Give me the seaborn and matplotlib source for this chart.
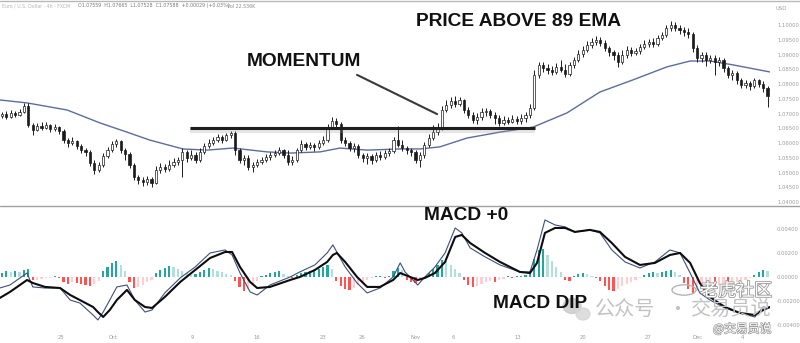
import numpy as np
import matplotlib
matplotlib.use("Agg")
import matplotlib.pyplot as plt
import matplotlib.patheffects as pe
from matplotlib.lines import Line2D
from matplotlib.patches import Ellipse, Circle
import seaborn as sns

# ------------------------------------------------------------------ data
opens = [1.0692, 1.0698, 1.0688, 1.0702, 1.0695, 1.0705, 1.0726, 1.0661, 1.0644, 1.0658,
         1.0651, 1.0661, 1.0648, 1.0654, 1.0641, 1.0610, 1.0600, 1.0607, 1.0590, 1.0576,
         1.0570, 1.0532, 1.0508, 1.0525, 1.0556, 1.0576, 1.0597, 1.0607, 1.0576, 1.0563,
         1.0525, 1.0485, 1.0475, 1.0468, 1.0478, 1.0464, 1.0508, 1.0519, 1.0512, 1.0525,
         1.0536, 1.0542, 1.0570, 1.0549, 1.0559, 1.0542, 1.0570, 1.0590, 1.0600, 1.0610,
         1.0620, 1.0610, 1.0627, 1.0634, 1.0576, 1.0542, 1.0549, 1.0519, 1.0525, 1.0536,
         1.0542, 1.0553, 1.0559, 1.0566, 1.0576, 1.0559, 1.0536, 1.0542, 1.0576, 1.0597,
         1.0587, 1.0593, 1.0587, 1.0600, 1.0610, 1.0654, 1.0675, 1.0665, 1.0610, 1.0600,
         1.0583, 1.0590, 1.0559, 1.0549, 1.0556, 1.0542, 1.0559, 1.0553, 1.0566, 1.0573,
         1.0610, 1.0593, 1.0583, 1.0576, 1.0570, 1.0542, 1.0559, 1.0593, 1.0617, 1.0637,
         1.0651, 1.0712, 1.0729, 1.0743, 1.0732, 1.0746, 1.0712, 1.0695, 1.0678, 1.0688,
         1.0705, 1.0709, 1.0695, 1.0685, 1.0668, 1.0678, 1.0671, 1.0682, 1.0675, 1.0685,
         1.0695, 1.0719, 1.0831, 1.0865, 1.0854, 1.0848, 1.0841, 1.0858, 1.0848, 1.0834,
         1.0865, 1.0882, 1.0902, 1.0915, 1.0932, 1.0943, 1.0949, 1.0939, 1.0922, 1.0909,
         1.0899, 1.0875, 1.0899, 1.0915, 1.0905, 1.0912, 1.0926, 1.0936, 1.0943, 1.0936,
         1.0956, 1.0966, 1.0990, 1.1000, 1.0990, 1.0983, 1.0977, 1.0970, 1.0922, 1.0888,
         1.0899, 1.0882, 1.0888, 1.0875, 1.0882, 1.0854, 1.0831, 1.0838, 1.0814, 1.0797,
         1.0804, 1.0793, 1.0814, 1.0800, 1.0787]
highs = [1.0705, 1.0709, 1.0712, 1.0709, 1.0715, 1.0736, 1.0736, 1.0668, 1.0668, 1.0671,
         1.0671, 1.0665, 1.0665, 1.0658, 1.0648, 1.0617, 1.0620, 1.0610, 1.0597, 1.0583,
         1.0576, 1.0542, 1.0536, 1.0566, 1.0587, 1.0607, 1.0614, 1.0610, 1.0583, 1.0570,
         1.0532, 1.0492, 1.0485, 1.0488, 1.0485, 1.0522, 1.0532, 1.0529, 1.0542, 1.0549,
         1.0553, 1.0583, 1.0576, 1.0576, 1.0570, 1.0583, 1.0600, 1.0614, 1.0620, 1.0631,
         1.0627, 1.0634, 1.0641, 1.0641, 1.0583, 1.0559, 1.0559, 1.0536, 1.0546, 1.0553,
         1.0563, 1.0570, 1.0576, 1.0587, 1.0580, 1.0576, 1.0556, 1.0583, 1.0610, 1.0603,
         1.0603, 1.0600, 1.0610, 1.0624, 1.0665, 1.0688, 1.0685, 1.0671, 1.0620, 1.0607,
         1.0600, 1.0597, 1.0566, 1.0566, 1.0563, 1.0570, 1.0573, 1.0576, 1.0583, 1.0620,
         1.0658, 1.0610, 1.0590, 1.0583, 1.0576, 1.0570, 1.0603, 1.0631, 1.0661, 1.0668,
         1.0726, 1.0746, 1.0756, 1.0760, 1.0756, 1.0749, 1.0722, 1.0705, 1.0702, 1.0719,
         1.0719, 1.0715, 1.0705, 1.0695, 1.0692, 1.0688, 1.0695, 1.0692, 1.0698, 1.0705,
         1.0732, 1.0848, 1.0875, 1.0875, 1.0868, 1.0861, 1.0871, 1.0882, 1.0868, 1.0875,
         1.0892, 1.0915, 1.0929, 1.0946, 1.0956, 1.0963, 1.0960, 1.0949, 1.0929, 1.0915,
         1.0909, 1.0915, 1.0929, 1.0926, 1.0922, 1.0936, 1.0949, 1.0953, 1.0956, 1.0966,
         1.0977, 1.1000, 1.1014, 1.1010, 1.1000, 1.0993, 1.0990, 1.0977, 1.0932, 1.0909,
         1.0909, 1.0899, 1.0899, 1.0892, 1.0888, 1.0861, 1.0848, 1.0844, 1.0821, 1.0814,
         1.0810, 1.0821, 1.0817, 1.0810, 1.0793]
lows = [1.0685, 1.0682, 1.0685, 1.0688, 1.0692, 1.0702, 1.0654, 1.0627, 1.0641, 1.0644,
        1.0648, 1.0637, 1.0641, 1.0631, 1.0600, 1.0587, 1.0593, 1.0580, 1.0566, 1.0556,
        1.0522, 1.0495, 1.0502, 1.0519, 1.0549, 1.0570, 1.0587, 1.0566, 1.0542, 1.0515,
        1.0475, 1.0461, 1.0454, 1.0458, 1.0451, 1.0461, 1.0498, 1.0502, 1.0505, 1.0519,
        1.0525, 1.0485, 1.0536, 1.0542, 1.0532, 1.0536, 1.0563, 1.0583, 1.0593, 1.0603,
        1.0600, 1.0607, 1.0617, 1.0559, 1.0532, 1.0525, 1.0508, 1.0502, 1.0519, 1.0529,
        1.0536, 1.0542, 1.0553, 1.0559, 1.0549, 1.0525, 1.0525, 1.0536, 1.0570, 1.0576,
        1.0580, 1.0573, 1.0580, 1.0593, 1.0603, 1.0648, 1.0654, 1.0600, 1.0590, 1.0573,
        1.0570, 1.0549, 1.0536, 1.0529, 1.0529, 1.0536, 1.0542, 1.0546, 1.0556, 1.0566,
        1.0587, 1.0573, 1.0563, 1.0556, 1.0532, 1.0519, 1.0549, 1.0587, 1.0610, 1.0627,
        1.0644, 1.0705, 1.0719, 1.0722, 1.0726, 1.0702, 1.0685, 1.0668, 1.0665, 1.0678,
        1.0692, 1.0685, 1.0665, 1.0658, 1.0661, 1.0665, 1.0668, 1.0665, 1.0665, 1.0671,
        1.0685, 1.0712, 1.0821, 1.0841, 1.0834, 1.0831, 1.0834, 1.0841, 1.0824, 1.0827,
        1.0854, 1.0875, 1.0892, 1.0909, 1.0922, 1.0932, 1.0929, 1.0912, 1.0895, 1.0882,
        1.0858, 1.0868, 1.0888, 1.0895, 1.0899, 1.0902, 1.0919, 1.0926, 1.0926, 1.0929,
        1.0949, 1.0960, 1.0980, 1.0980, 1.0970, 1.0963, 1.0956, 1.0909, 1.0875, 1.0875,
        1.0861, 1.0871, 1.0831, 1.0861, 1.0841, 1.0821, 1.0814, 1.0800, 1.0787, 1.0787,
        1.0780, 1.0787, 1.0790, 1.0773, 1.0722]
closes = [1.0698, 1.0688, 1.0702, 1.0695, 1.0705, 1.0726, 1.0661, 1.0644, 1.0658, 1.0651,
          1.0661, 1.0648, 1.0654, 1.0641, 1.0610, 1.0600, 1.0607, 1.0590, 1.0576, 1.0570,
          1.0532, 1.0508, 1.0525, 1.0556, 1.0576, 1.0597, 1.0607, 1.0576, 1.0563, 1.0525,
          1.0485, 1.0475, 1.0468, 1.0478, 1.0464, 1.0508, 1.0519, 1.0512, 1.0525, 1.0536,
          1.0542, 1.0570, 1.0549, 1.0559, 1.0542, 1.0570, 1.0590, 1.0600, 1.0610, 1.0620,
          1.0610, 1.0627, 1.0634, 1.0576, 1.0542, 1.0549, 1.0519, 1.0525, 1.0536, 1.0542,
          1.0553, 1.0559, 1.0566, 1.0576, 1.0559, 1.0536, 1.0542, 1.0576, 1.0597, 1.0587,
          1.0593, 1.0587, 1.0600, 1.0610, 1.0654, 1.0675, 1.0665, 1.0610, 1.0600, 1.0583,
          1.0590, 1.0559, 1.0549, 1.0556, 1.0542, 1.0559, 1.0553, 1.0566, 1.0573, 1.0610,
          1.0593, 1.0583, 1.0576, 1.0570, 1.0542, 1.0559, 1.0593, 1.0617, 1.0637, 1.0651,
          1.0712, 1.0729, 1.0743, 1.0732, 1.0746, 1.0712, 1.0695, 1.0678, 1.0688, 1.0705,
          1.0709, 1.0695, 1.0685, 1.0668, 1.0678, 1.0671, 1.0682, 1.0675, 1.0685, 1.0695,
          1.0719, 1.0831, 1.0865, 1.0854, 1.0848, 1.0841, 1.0858, 1.0848, 1.0834, 1.0865,
          1.0882, 1.0902, 1.0915, 1.0932, 1.0943, 1.0949, 1.0939, 1.0922, 1.0909, 1.0899,
          1.0875, 1.0899, 1.0915, 1.0905, 1.0912, 1.0926, 1.0936, 1.0943, 1.0936, 1.0956,
          1.0966, 1.0990, 1.1000, 1.0990, 1.0983, 1.0977, 1.0970, 1.0922, 1.0888, 1.0899,
          1.0882, 1.0888, 1.0875, 1.0882, 1.0854, 1.0831, 1.0838, 1.0814, 1.0797, 1.0804,
          1.0793, 1.0814, 1.0800, 1.0787, 1.0760]

# 89 EMA (bar position, value)
ema_pos = [-0.5, 5.7, 14.8, 22.3, 28.4, 33.6, 41.1, 46.6, 52.5, 60.2, 65.5, 72.3, 76.8,
           83.0, 90.5, 95.0, 99.5, 105.7, 113.2, 120.7, 128.4, 135.9, 143.4, 151.1,
           156.4, 160.9, 166.1, 174.5]
ema_val = [1.0746, 1.0736, 1.0712, 1.0668, 1.0637, 1.0610, 1.0580, 1.0576, 1.0583, 1.0570,
           1.0566, 1.0570, 1.0583, 1.0576, 1.0580, 1.0580, 1.0587, 1.0617, 1.0637, 1.0654,
           1.0702, 1.0773, 1.0814, 1.0858, 1.0878, 1.0878, 1.0865, 1.0841]

# MACD (bar position, macd line, signal line)
macd_pos = [-0.5, 1.8, 5.7, 7.0, 9.8, 13.2, 15.5, 17.7, 20.7, 21.8, 23.0, 24.5, 26.1, 28.4,
            30.2, 32.5, 34.1, 37.0, 40.5, 43.9, 47.3, 50.7, 52.3, 54.1, 56.4, 58.0, 60.9,
            65.5, 67.7, 71.1, 73.9, 75.2, 76.1, 78.0, 80.7, 83.0, 85.9, 88.9, 90.5, 91.6,
            94.5, 96.1, 98.4, 100.7, 103.0, 104.5, 106.4, 109.8, 113.2, 117.7, 120.0, 121.6,
            123.4, 125.7, 128.0, 130.2, 133.6, 135.9, 138.6, 141.6, 145.0, 148.4, 151.8,
            154.1, 156.4, 158.6, 160.9, 164.3, 167.7, 171.1, 173.0, 174.5]
macd_line = [-0.00092, -0.00067, 0.00033, -0.00083, -0.00092, -0.00092, -0.00192, -0.00217,
             -0.00317, -0.00358, -0.00292, -0.00192, -0.00083, -0.00067, -0.00192, -0.00292,
             -0.00275, -0.00133, -0.00008, 0.00083, 0.00200, 0.00225, 0.00183, 0.00033,
             -0.00125, -0.00150, -0.00067, 0.00000, 0.00042, 0.00100, 0.00200, 0.00267,
             0.00208, 0.00083, -0.00050, -0.00133, -0.00092, 0.00000, 0.00117, 0.00042,
             -0.00067, 0.00000, 0.00083, 0.00200, 0.00408, 0.00367, 0.00242, 0.00167,
             0.00100, 0.00042, 0.00042, 0.00225, 0.00475, 0.00433, 0.00417, 0.00375,
             0.00392, 0.00367, 0.00225, 0.00125, 0.00075, 0.00125, 0.00225, 0.00200,
             0.00033, -0.00133, -0.00192, -0.00258, -0.00300, -0.00333, -0.00250, -0.00258]
signal_line = [-0.00175, -0.00125, -0.00025, -0.00050, -0.00083, -0.00092, -0.00150, -0.00192,
               -0.00250, -0.00292, -0.00333, -0.00275, -0.00192, -0.00108, -0.00192, -0.00250,
               -0.00258, -0.00167, -0.00042, 0.00058, 0.00158, 0.00208, 0.00208, 0.00083,
               -0.00042, -0.00092, -0.00083, -0.00025, 0.00000, 0.00058, 0.00125, 0.00183,
               0.00200, 0.00125, 0.00000, -0.00083, -0.00083, -0.00025, 0.00033, 0.00017,
               -0.00025, -0.00008, 0.00033, 0.00125, 0.00333, 0.00350, 0.00283, 0.00200,
               0.00125, 0.00042, 0.00033, 0.00117, 0.00367, 0.00408, 0.00408, 0.00375,
               0.00392, 0.00375, 0.00283, 0.00167, 0.00100, 0.00117, 0.00183, 0.00200,
               0.00117, -0.00050, -0.00167, -0.00250, -0.00300, -0.00317, -0.00275, -0.00250]
hist = [0.00033, 0.00050, 0.00042, 0.00050, 0.00042, 0.00058, 0.00067, -0.00025, -0.00025, -0.00017,
        -0.00008, -0.00008, 0.00004, -0.00008, -0.00042, -0.00058, -0.00042, -0.00050, -0.00058, -0.00067,
        -0.00075, -0.00058, -0.00033, 0.00050, 0.00083, 0.00117, 0.00133, 0.00100, 0.00050, -0.00042,
        -0.00092, -0.00083, -0.00067, -0.00042, -0.00025, 0.00033, 0.00058, 0.00075, 0.00092, 0.00083,
        0.00067, 0.00050, 0.00033, 0.00017, 0.00025, 0.00042, 0.00058, 0.00075, 0.00067, 0.00050,
        0.00042, 0.00025, 0.00017, -0.00033, -0.00083, -0.00117, -0.00100, -0.00067, -0.00033, 0.00008,
        0.00017, 0.00033, 0.00042, 0.00050, 0.00025, 0.00008, -0.00008, 0.00017, 0.00033, 0.00042,
        0.00050, 0.00058, 0.00067, 0.00083, 0.00100, 0.00067, -0.00033, -0.00075, -0.00100, -0.00108,
        -0.00092, -0.00067, -0.00042, -0.00025, -0.00008, 0.00004, 0.00008, -0.00008, 0.00008, 0.00050,
        0.00075, 0.00058, -0.00025, -0.00042, -0.00050, -0.00033, -0.00017, 0.00033, 0.00067, 0.00100,
        0.00142, 0.00133, 0.00100, 0.00067, 0.00033, -0.00025, -0.00067, -0.00083, -0.00075, -0.00058,
        -0.00042, -0.00033, -0.00042, -0.00025, -0.00017, 0.00004, -0.00008, 0.00008, 0.00008, 0.00017,
        0.00050, 0.00150, 0.00225, 0.00233, 0.00183, 0.00133, 0.00083, 0.00042, -0.00025, -0.00033,
        0.00008, 0.00025, 0.00033, 0.00025, 0.00008, -0.00008, -0.00033, -0.00075, -0.00108, -0.00117,
        -0.00100, -0.00075, -0.00058, -0.00042, -0.00025, -0.00008, 0.00017, 0.00033, 0.00042, 0.00033,
        0.00042, 0.00050, 0.00058, 0.00042, 0.00017, -0.00050, -0.00100, -0.00133, -0.00117, -0.00092,
        -0.00075, -0.00067, -0.00075, -0.00067, -0.00058, -0.00067, -0.00050, -0.00042, -0.00033, -0.00025,
        -0.00008, 0.00017, 0.00042, 0.00058, 0.00050]

price_ticks = [1.10, 1.095, 1.09, 1.085, 1.08, 1.075, 1.07, 1.065, 1.06, 1.055, 1.05, 1.045, 1.04]
macd_ticks = [0.004, 0.002, 0.0, -0.002, -0.004]
date_ticks = [13.4, 25.2, 43.2, 58.0, 73.0, 81.8, 93.9, 102.5, 117.3, 132.0, 146.8, 158.2, 168.2]
date_labels = ["25", "Oct", "9", "16", "23", "26", "Nov", "6", "13", "20", "27", "Dec", "4"]

# annotations
level_price = 1.0651
level_span = [42.7, 121.1]
pointer_x = [80.7, 98.9]
pointer_y = [1.0831, 1.0698]
header_name = "Euro / U.S. Dollar · 4h · FXCM"
header_vals = "O1.07559  H1.07665  L1.07528  C1.07588  +0.00029 (+0.03%)"
header_vol = "Vol 22.536K"

# ------------------------------------------------------------------ style
sns.set_theme(style="white")
plt.rcParams["font.family"] = ["DejaVu Sans"]

W, H = 800, 343
fig = plt.figure(figsize=(W / 100, H / 100), dpi=100)
fig.patch.set_facecolor("white")


def fx(px):
    return px / W


def fy(py):
    return 1 - py / H


ax_p = fig.add_axes([0, fy(205), fx(770), (205 - 2) / H])
ax_m = fig.add_axes([0, fy(328), fx(770), (328 - 206) / H], sharex=ax_p)

o = np.array(opens); h = np.array(highs); l = np.array(lows); c = np.array(closes)
idx = np.arange(len(c))

# candles
ax_p.vlines(idx, l, h, color="#1c1c1c", lw=0.7, zorder=3)
up = c >= o
body_bot = np.minimum(o, c)
body_h = np.maximum(np.abs(c - o), 0.00008)
ax_p.bar(idx, body_h, bottom=body_bot, width=0.5,
         color=np.where(up, "white", "#1c1c1c"), edgecolor="#1c1c1c",
         linewidth=0.5, zorder=4)

# EMA
sns.lineplot(x=ema_pos, y=ema_val, ax=ax_p, color="#5b6d9c", lw=1.0, sort=False, zorder=2)

# level line with soft shadow
ax_p.plot(level_span, [level_price - 0.0006, level_price - 0.0006], color="#999999",
          lw=4.5, alpha=0.25, solid_capstyle="butt", zorder=5)
ax_p.plot(level_span, [level_price, level_price], color="#1e1e1e", lw=2.2,
          solid_capstyle="butt", zorder=6)
ax_p.plot(pointer_x, pointer_y, color="#3a3a3a", lw=1.5, zorder=6)

ax_p.set_xlim(-0.45, 174.55)
ax_p.set_ylim(1.0390, 1.1078)

# MACD histogram
hv = np.array(hist)
prev = np.r_[hv[0], hv[:-1]]
cols = np.where(hv >= 0,
                np.where(hv >= prev, "#26a69a", "#b2dfdb"),
                np.where(hv < prev, "#ff5252", "#ffcdd2"))
ax_m.bar(idx, hv, width=0.5, color=cols, linewidth=0, zorder=2)
sns.lineplot(x=macd_pos, y=macd_line, ax=ax_m, color="#3d4f7c", lw=0.8, sort=False, zorder=3)
sns.lineplot(x=macd_pos, y=signal_line, ax=ax_m, color="#0d0d0d", lw=1.5, sort=False, zorder=4)
ax_m.set_ylim(-0.00425, 0.00591)

for ax in (ax_p, ax_m):
    for s in ax.spines.values():
        s.set_visible(False)
    ax.yaxis.tick_right()
    ax.tick_params(axis="y", length=0, pad=5, labelsize=3.8, labelcolor="#9c9c9c")
    ax.set_facecolor("none")

ax_p.set_yticks(price_ticks)
ax_p.set_yticklabels([f"{v:.5f}" for v in price_ticks])
ax_m.set_yticks(macd_ticks)
ax_m.set_yticklabels([f"{v:.5f}".replace("-0.00000", "0.00000") for v in macd_ticks])
ax_p.tick_params(axis="x", bottom=False, labelbottom=False)
ax_m.set_xticks(date_ticks)
ax_m.set_xticklabels(date_labels)
ax_m.tick_params(axis="x", length=0, pad=5, labelsize=3.8, labelcolor="#9c9c9c")
ax_p.set_xlabel(""); ax_m.set_xlabel("")

# separator lines
fig.add_artist(Line2D([0, 1], [fy(1), fy(1)], color="#b8b8b8", lw=1.0))
fig.add_artist(Line2D([0, 1], [fy(205.5), fy(205.5)], color="#a0a0a0", lw=1.0))

# header + currency
fig.text(fx(2), fy(6), header_name, fontsize=3.4, color="#b5b5b5", va="center")
fig.text(fx(78), fy(6), header_vals, fontsize=3.4, color="#7a7a7a", va="center")
fig.text(fx(227), fy(6), header_vol, fontsize=3.4, color="#8a8a8a", va="center")
fig.text(fx(776), fy(8), "USD", fontsize=3.8, color="#9c9c9c", va="center")

# annotation texts
bold = dict(family=["Liberation Sans", "DejaVu Sans"], weight="bold", fontsize=13.8,
            color="#111111", ha="center", va="center")
fig.text(fx(519), fy(21), "PRICE ABOVE 89 EMA", **bold)
fig.text(fx(304), fy(61), "MOMENTUM", **bold)
fig.text(fx(466), fy(216), "MACD +0", **bold)
fig.text(fx(540), fy(303), "MACD DIP", **bold)

# watermarks
cjk = ["Noto Sans CJK SC", "DejaVu Sans"]
fig.add_artist(Ellipse((fx(572), fy(306)), 18 / W, 15 / H, transform=fig.transFigure,
                       color="#c9c9c9", alpha=0.8))
fig.add_artist(Ellipse((fx(583), fy(314)), 14 / W, 12 / H, transform=fig.transFigure,
                       color="#d5d5d5", alpha=0.8))
fig.text(fx(625), fy(309), "公众号", family=cjk, fontsize=14.5, color="#c2c2c2",
         ha="center", va="center")
fig.text(fx(677), fy(309), "·", family=cjk, fontsize=14.5, color="#c2c2c2",
         ha="center", va="center")
fig.text(fx(730), fy(309), "交易员说", family=cjk, fontsize=14.5, color="#c2c2c2",
         ha="center", va="center")
fig.add_artist(Circle((fx(684), fy(290)), 12 / W, transform=fig.transFigure,
                      fill=False, ec="#b5b5b5", lw=1.0))
fig.text(fx(736), fy(291), "老虎社区", family=cjk, fontsize=13, color="white",
         ha="center", va="center",
         path_effects=[pe.withStroke(linewidth=1.2, foreground="#9a9a9a")])
fig.text(fx(742), fy(329), "@交易员说", family=cjk, fontsize=8.5, color="white",
         ha="center", va="center",
         path_effects=[pe.withStroke(linewidth=1.0, foreground="#9a9a9a")])

fig.savefig("out.png", dpi=100, facecolor="white")
